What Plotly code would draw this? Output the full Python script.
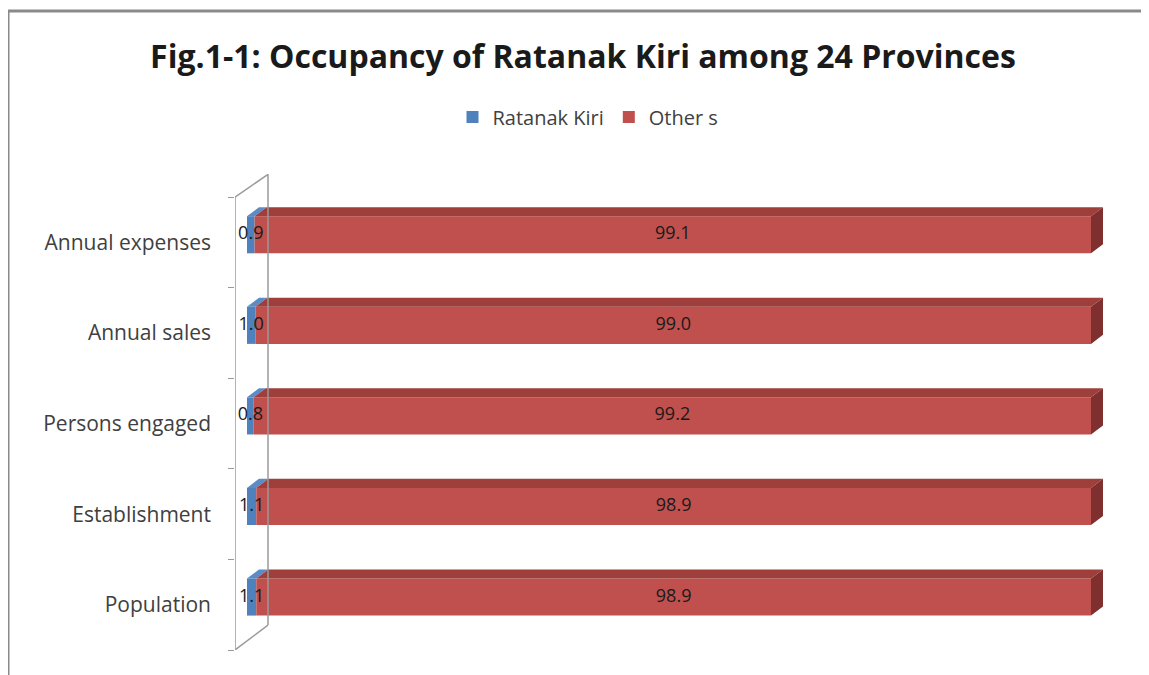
import plotly.graph_objects as go

# data (bottom to top as drawn)
categories = ["Population", "Establishment", "Persons engaged", "Annual sales", "Annual expenses"]
ratanak = [1.1, 1.1, 0.8, 1.0, 0.9]
others = [98.9, 98.9, 99.2, 99.0, 99.1]

BLUE, RED = "#4F81BD", "#C0504D"
BLUE_TOP, RED_TOP, RED_SIDE = "#5B8CC6", "#9E3F3C", "#7F302E"

ys = list(range(len(categories)))
off = 0.085          # bars sit a bit above the label line (3d floor)
w = 0.41             # bar thickness
dx, dy = 1.42, 0.10  # depth of the 3d bars

fig = go.Figure()

# front faces
fig.add_trace(go.Bar(y=[y + off for y in ys], x=ratanak, orientation="h", name="Ratanak Kiri",
                     marker=dict(color=BLUE, line=dict(width=0)), width=w))
fig.add_trace(go.Bar(y=[y + off for y in ys], x=others, base=ratanak, orientation="h", name="Other s",
                     marker=dict(color=RED, line=dict(width=0)), width=w))

# top + side faces
def poly(pts_list):
    xs, yy = [], []
    for pts in pts_list:
        for p in pts + [pts[0]]:
            xs.append(p[0]); yy.append(p[1])
        xs.append(None); yy.append(None)
    return xs, yy

blue_top, red_top, red_side = [], [], []
for i, y in enumerate(ys):
    yc = y + off
    a, b = ratanak[i], ratanak[i] + others[i]
    t = yc + w / 2
    bt = yc - w / 2
    blue_top.append([(0, t), (dx, t + dy), (a + dx, t + dy), (a, t)])
    red_top.append([(a, t), (a + dx, t + dy), (b + dx, t + dy), (b, t)])
    red_side.append([(b, bt), (b, t), (b + dx, t + dy), (b + dx, bt + dy)])

for pts, col in [(blue_top, BLUE_TOP), (red_top, RED_TOP), (red_side, RED_SIDE)]:
    px, py = poly(pts)
    fig.add_trace(go.Scatter(x=px, y=py, fill="toself", fillcolor=col, mode="lines",
                             line=dict(width=0, color=col), showlegend=False, hoverinfo="skip"))

# value labels
fig.add_trace(go.Scatter(x=[v / 2 for v in ratanak], y=[y + off for y in ys], mode="text",
                         text=[f"{v:.1f}" for v in ratanak], textfont=dict(size=18, color="#1a1a1a"),
                         showlegend=False, hoverinfo="skip"))
fig.add_trace(go.Scatter(x=[a + o / 2 for a, o in zip(ratanak, others)], y=[y + off for y in ys], mode="text",
                         text=[f"{v:.1f}" for v in others], textfont=dict(size=18, color="#1a1a1a"),
                         showlegend=False, hoverinfo="skip"))

# 3d wall of the category axis
wall = "#9a9a9a"
x_front, x_back = -1.42, 2.49
lo, hi = -0.5, len(categories) - 0.5
back_lo, back_hi = lo + 0.275, hi + 0.253
shapes = [
    dict(type="line", x0=x_front, x1=x_front, y0=lo, y1=hi),
    dict(type="line", x0=x_back, x1=x_back, y0=back_lo, y1=back_hi),
    dict(type="line", x0=x_front, x1=x_back, y0=hi, y1=back_hi),
    dict(type="line", x0=x_front, x1=x_back, y0=lo, y1=back_lo),
]
for s in shapes:
    s.update(xref="x", yref="y", line=dict(color=wall, width=1.5))
# chart frame (top and left edge)
shapes.append(dict(type="line", xref="paper", yref="paper", x0=-0.2594, x1=1.05, y0=1.331, y1=1.331,
                   line=dict(color="#8a8a8a", width=3)))
shapes.append(dict(type="line", xref="paper", yref="paper", x0=-0.2594, x1=-0.2594, y0=-0.06, y1=1.331,
                   line=dict(color="#8a8a8a", width=3)))

fig.update_layout(
    width=1141, height=667,
    margin=dict(l=227, r=39, t=162, b=25),
    paper_bgcolor="white", plot_bgcolor="white",
    barmode="overlay",
    font=dict(family="Open Sans, Lato, sans-serif", color="#404040"),
    title=dict(text="<b>Fig.1-1: Occupancy of Ratanak Kiri among 24 Provinces</b>",
               x=575 / 1141, xanchor="center", xref="container", y=1 - 49 / 667, yref="container",
               yanchor="middle", font=dict(size=32, color="#1a1a1a")),
    legend=dict(orientation="h", xref="container", x=580 / 1141, xanchor="center",
                yref="container", y=1 - 109 / 667, yanchor="middle",
                font=dict(size=20, color="#404040"), itemwidth=30),
    shapes=shapes,
    showlegend=True,
)
fig.update_xaxes(range=[x_front, 102.25], showgrid=False, zeroline=False, showticklabels=False,
                 showline=False, fixedrange=True)
fig.update_yaxes(range=[lo, 4.8], tickvals=ys, ticktext=categories, showgrid=False, zeroline=False,
                 ticks="", ticklabelstandoff=23, tickfont=dict(size=21, color="#404040"),
                 minor=dict(tickvals=[k - 0.5 for k in range(len(categories) + 1)], ticks="outside",
                            ticklen=6, tickcolor=wall, showgrid=False),
                 showline=False)

fig.write_html("out.html")
